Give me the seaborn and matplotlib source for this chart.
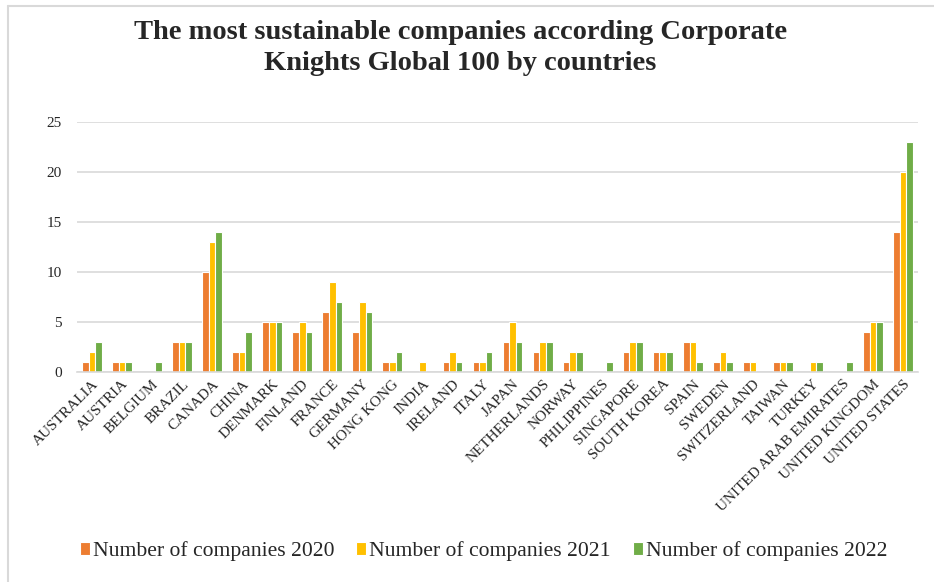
import matplotlib
matplotlib.use("Agg")
import matplotlib.pyplot as plt
import seaborn as sns
import pandas as pd
from matplotlib.lines import Line2D

countries = ["AUSTRALIA", "AUSTRIA", "BELGIUM", "BRAZIL", "CANADA", "CHINA", "DENMARK",
             "FINLAND", "FRANCE", "GERMANY", "HONG KONG", "INDIA", "IRELAND", "ITALY",
             "JAPAN", "NETHERLANDS", "NORWAY", "PHILIPPINES", "SINGAPORE", "SOUTH KOREA",
             "SPAIN", "SWEDEN", "SWITZERLAND", "TAIWAN", "TURKEY", "UNITED ARAB EMIRATES",
             "UNITED KINGDOM", "UNITED STATES"]
y2020 = [1, 1, 0, 3, 10, 2, 5, 4, 6, 4, 1, 0, 1, 1, 3, 2, 1, 0, 2, 2, 3, 1, 1, 1, 0, 0, 4, 14]
y2021 = [2, 1, 0, 3, 13, 2, 5, 5, 9, 7, 1, 1, 2, 1, 5, 3, 2, 0, 3, 2, 3, 2, 1, 1, 1, 0, 5, 20]
y2022 = [3, 1, 1, 3, 14, 4, 5, 4, 7, 6, 2, 0, 1, 2, 3, 3, 2, 1, 3, 2, 1, 1, 0, 1, 1, 1, 5, 23]
series = ["Number of companies 2020", "Number of companies 2021", "Number of companies 2022"]
colors = ["#ED7D31", "#FFC000", "#70AD47"]

rows = []
for s, vals in zip(series, [y2020, y2021, y2022]):
    for c, v in zip(countries, vals):
        rows.append({"Country": c, "Series": s, "Value": v})
df = pd.DataFrame(rows)

sns.set_theme(style="white")
plt.rcParams['font.family'] = ['Liberation Serif', 'DejaVu Serif']

fig = plt.figure(figsize=(9.34, 5.82), dpi=100)
ax = fig.add_axes([0.0824, 0.361, 0.9006, 0.429])

sns.barplot(data=df, x="Country", y="Value", hue="Series", palette=colors, saturation=1,
            width=0.66, edgecolor="white", linewidth=0.8, ax=ax, legend=True)

ax.set_ylim(0, 25)
ax.set_xlim(-0.5, len(countries) - 0.5)
ax.set_yticks([0, 5, 10, 15, 20, 25])
ax.yaxis.grid(True, color="#D9D9D9", linewidth=1.2)
ax.set_axisbelow(True)
for sp in ["top", "right", "left"]:
    ax.spines[sp].set_visible(False)
ax.spines["bottom"].set_color("#D9D9D9")
ax.spines["bottom"].set_linewidth(1.2)
ax.set_xlabel("")
ax.set_ylabel("")
ax.tick_params(axis="both", length=0, colors="#262626")
ax.tick_params(axis="y", labelsize=11, pad=11)
plt.setp(ax.get_xticklabels(), rotation=45, ha="right", rotation_mode="anchor", fontsize=11)
ax.tick_params(axis="x", pad=4)

fig.text(0.493, 0.918, "The most sustainable companies according Corporate\nKnights Global 100 by countries",
         ha="center", va="center", fontsize=20.5, fontweight="bold", linespacing=1.3)

leg = ax.legend(loc="center", ncol=3, frameon=False, fontsize=15.6, handlelength=0.45,
                handleheight=0.55, handletextpad=0.15, columnspacing=1.0)
leg.set_bbox_to_anchor((0.518, 0.053), transform=fig.transFigure)

# partial frame (left and top edges only, as in the reference)
fig.add_artist(Line2D([8 / 934, 8 / 934], [0, 1 - 6 / 582], transform=fig.transFigure,
                      color="#D9D9D9", linewidth=1.5))
fig.add_artist(Line2D([8 / 934, 1], [1 - 6 / 582, 1 - 6 / 582], transform=fig.transFigure,
                      color="#D9D9D9", linewidth=1.5))

fig.savefig("out.png", dpi=100)
